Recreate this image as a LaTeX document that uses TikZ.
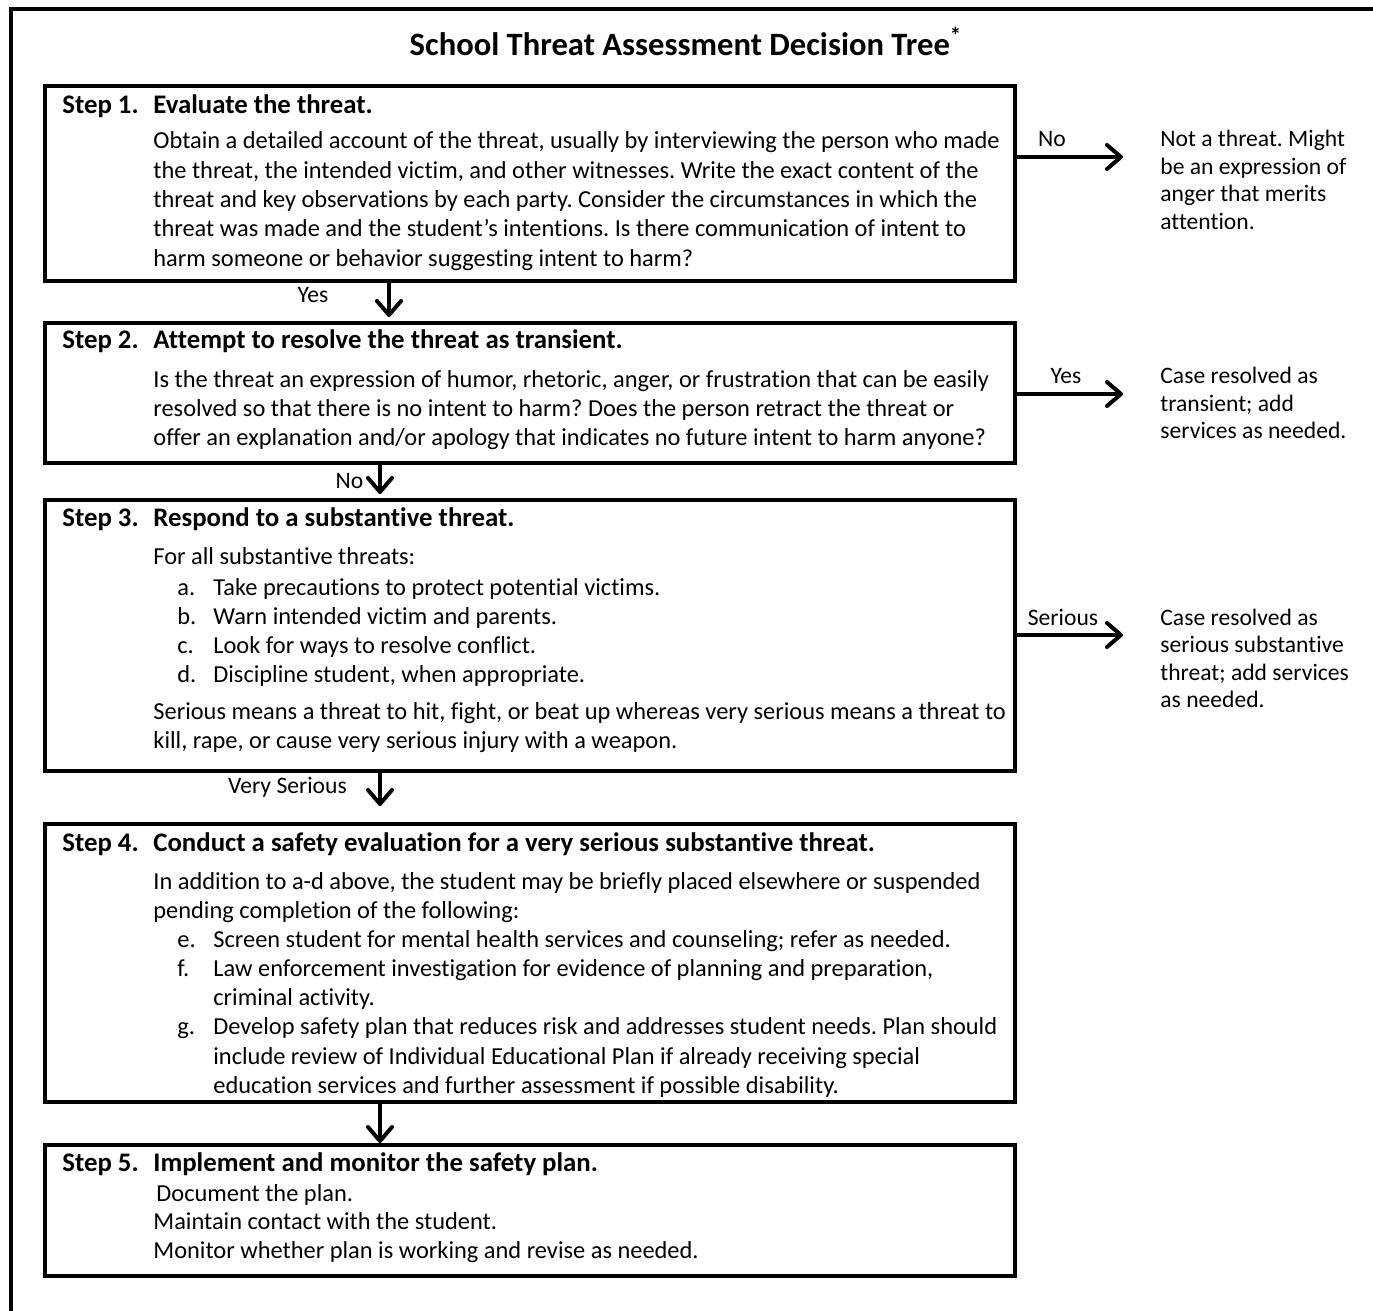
\documentclass[tikz,border=0pt]{standalone}
\usepackage{fontspec}
\setmainfont{Carlito}[Ligatures=NoCommon]
\frenchspacing
\usetikzlibrary{arrows.meta}

\tikzset{
  boxline/.style={line width=2pt},
  stepbox/.style={draw, boxline, anchor=north west, inner sep=0pt, minimum width=485pt},
  titletxt/.style={anchor=base, inner sep=0pt, font=\fontsize{16.3}{19}\selectfont\bfseries},
  headtxt/.style={anchor=base west, inner sep=0pt, font=\fontsize{13.4}{16}\selectfont\bfseries},
  bodytxt/.style={anchor=base west, inner sep=0pt, align=flush left, text width=460pt, font=\fontsize{12.2}{14.65}\selectfont},
  listtxt/.style={anchor=base west, inner sep=0pt, font=\fontsize{12.2}{14.65}\selectfont},
  sidetxt/.style={anchor=base west, inner sep=0pt, align=flush left, text width=110pt, font=\fontsize{11.8}{13.75}\selectfont},
  lbltxt/.style={anchor=base, inner sep=0pt, font=\fontsize{11.8}{14}\selectfont},
  flowarrow/.style={line width=2pt, -{Straight Barb[length=7pt,width=12pt,round]}}
}

\begin{document}
\begin{tikzpicture}[x=0.5pt, y=-0.5pt]
	\useasboundingbox (0,0) rectangle (1373,1311);
	% outer frame
	\draw[boxline] (11,1311) -- (11,9) -- (1373,9);
	\node[titletxt] (title) at (686,56) {School Threat Assessment Decision Tree\textsuperscript{*}};

	% the five boxes
	\node[stepbox, minimum height=97.5pt] (s1) at (43,84) {};
	\node[stepbox, minimum height=70pt] (s2) at (43,321) {};
	\node[stepbox, minimum height=135.5pt] (s3) at (43,498) {};
	\node[stepbox, minimum height=139pt] (s4) at (43,822) {};
	\node[stepbox, minimum height=65.5pt] (s5) at (43,1143) {};

	% step 1
	\node[headtxt] (h1a) at (62,114) {Step 1.};
	\node[headtxt] (h1b) at (153,114) {Evaluate the threat.};
	\node[bodytxt] (b1) at (153,149) {Obtain a detailed account of the threat, usually by interviewing the person who made\\
		the threat, the intended victim, and other witnesses. Write the exact content of the\\
		threat and key observations by each party. Consider the circumstances in which the\\
		threat was made and the student’s intentions. Is there communication of intent to\\
		harm someone or behavior suggesting intent to harm?};
	\coordinate (t1) at (1123,157);
	\draw[flowarrow] (s1.east |- t1) -- (t1);
	\node[lbltxt] (n1) at (1052,147) {No};
	\node[sidetxt] (r1) at (1160,147) {Not a threat. Might\\ be an expression of\\ anger that merits\\ attention.};

	\draw[flowarrow] ([xshift=173pt]s1.south west) -- ([xshift=173pt,yshift=2pt]s2.north west);
	\node[lbltxt] (y1) at (313,303) {Yes};

	% step 2
	\node[headtxt] (h2a) at (62,349) {Step 2.};
	\node[headtxt] (h2b) at (153,349) {Attempt to resolve the threat as transient.};
	\node[bodytxt] (b2) at (153,387) {Is the threat an expression of humor, rhetoric, anger, or frustration that can be easily\\
		resolved so that there is no intent to harm? Does the person retract the threat or\\
		offer an explanation and/or apology that indicates no future intent to harm anyone?};
	\coordinate (t2) at (1123,394);
	\draw[flowarrow] (s2.east |- t2) -- (t2);
	\node[lbltxt] (y2) at (1066,384) {Yes};
	\node[sidetxt] (r2) at (1160,384) {Case resolved as\\ transient; add\\ services as needed.};

	\draw[flowarrow] ([xshift=168.5pt]s2.south west) -- ([xshift=168.5pt,yshift=2pt]s3.north west);
	\node[lbltxt] (n2) at (349.5,488) {No};

	% step 3
	\node[headtxt] (h3a) at (62,526) {Step 3.};
	\node[headtxt] (h3b) at (153,526) {Respond to a substantive threat.};
	\node[bodytxt] (b3) at (153,564) {For all substantive threats:};
	\node[listtxt] (l3) at (177,595) {\begin{tabular}[t]{@{}p{18pt}@{}l@{}}
		a. & Take precautions to protect potential victims.\\
		b. & Warn intended victim and parents.\\
		c. & Look for ways to resolve conflict.\\
		d. & Discipline student, when appropriate.
	\end{tabular}};
	\node[bodytxt] (c3) at (153,719) {Serious means a threat to hit, fight, or beat up whereas very serious means a threat to\\
		kill, rape, or cause very serious injury with a weapon.};
	\coordinate (t3) at (1123,635);
	\draw[flowarrow] (s3.east |- t3) -- (t3);
	\node[lbltxt] (v3) at (1063,625) {Serious};
	\node[sidetxt] (r3) at (1160,625) {Case resolved as\\ serious substantive\\ threat; add services\\ as needed.};

	\draw[flowarrow] ([xshift=168.5pt]s3.south west) -- ([xshift=168.5pt,yshift=8pt]s4.north west);
	\node[lbltxt] (vs3) at (287.5,793) {Very Serious};

	% step 4
	\node[headtxt] (h4a) at (62,851) {Step 4.};
	\node[headtxt] (h4b) at (153,851) {Conduct a safety evaluation for a very serious substantive threat.};
	\node[bodytxt] (b4) at (153,889) {In addition to a-d above, the student may be briefly placed elsewhere or suspended\\
		pending completion of the following:};
	\node[listtxt] (l4) at (177,947) {\begin{tabular}[t]{@{}p{18pt}@{}l@{}}
		e. & Screen student for mental health services and counseling; refer as needed.\\
		f. & Law enforcement investigation for evidence of planning and preparation,\\
		   & criminal activity.\\
		g. & Develop safety plan that reduces risk and addresses student needs. Plan should\\
		   & include review of Individual Educational Plan if already receiving special\\
		   & education services and further assessment if possible disability.
	\end{tabular}};

	\draw[flowarrow] ([xshift=168.5pt]s4.south west) -- ([xshift=168.5pt]s5.north west);

	% step 5
	\node[headtxt] (h5a) at (62,1171) {Step 5.};
	\node[headtxt] (h5b) at (153,1171) {Implement and monitor the safety plan.};
	\node[bodytxt, font=\fontsize{12.2}{14.4}\selectfont] (b5) at (153,1201) {\hspace*{1.5pt}Document the plan.\\
		Maintain contact with the student.\\
		Monitor whether plan is working and revise as needed.};
\end{tikzpicture}
\end{document}
